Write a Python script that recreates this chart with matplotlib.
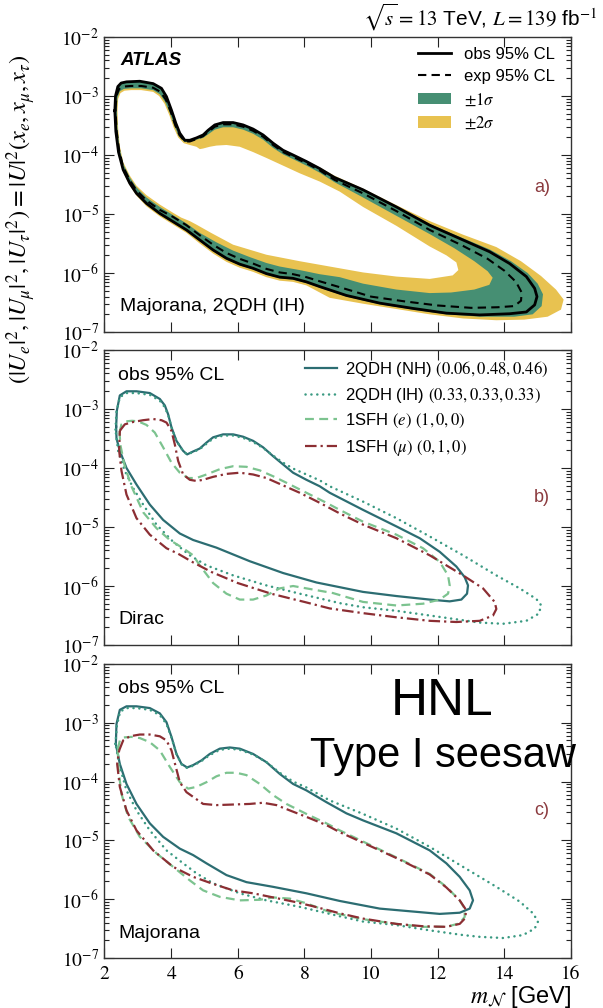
import numpy as np
import matplotlib
matplotlib.use("Agg")
import matplotlib.pyplot as plt
from matplotlib.path import Path
from matplotlib.patches import PathPatch, Patch
from matplotlib.lines import Line2D
from matplotlib.ticker import FixedLocator, LogLocator, NullFormatter, FuncFormatter

plt.rcParams['font.family'] = ['Liberation Sans', 'DejaVu Sans']
plt.rcParams['mathtext.fontset'] = 'stix'

# ---------------------------------------------------------------------------
# Exclusion contours: (m_N [GeV], log10 |U|^2), each a closed loop
# ---------------------------------------------------------------------------
# (a) Majorana, 2QDH (IH): observed, expected and +-1/2 sigma band edges
OBS_A = [(2.31,-3.25),(2.33,-3.00),(2.40,-2.84),(2.50,-2.78),(2.66,-2.76),(3.06,-2.75),(3.46,-2.79),
         (3.71,-2.87),(3.86,-3.01),(4.01,-3.24),(4.14,-3.46),(4.26,-3.63),(4.41,-3.75),(4.56,-3.75),
         (4.76,-3.71),(4.96,-3.66),(5.11,-3.58),(5.31,-3.49),(5.56,-3.45),(5.86,-3.45),(6.16,-3.49),
         (6.46,-3.56),(6.76,-3.66),(7.06,-3.80),(7.36,-3.92),(7.66,-4.00),(8.06,-4.11),(8.46,-4.23),
         (8.90,-4.38),(9.76,-4.59),(10.76,-4.88),(11.76,-5.19),(12.76,-5.44),(13.56,-5.64),(14.16,-5.84),
         (14.66,-6.06),(14.91,-6.26),(14.98,-6.40),(14.91,-6.54),(14.66,-6.66),(14.16,-6.69),(13.26,-6.71),
         (12.26,-6.68),(11.26,-6.60),(10.26,-6.51),(9.26,-6.38),(8.46,-6.23),(8.06,-6.15),(7.66,-6.09),
         (7.26,-6.07),(6.86,-6.01),(6.46,-5.92),(6.06,-5.85),(5.66,-5.75),(5.26,-5.61),(4.86,-5.44),
         (4.46,-5.27),(4.06,-5.13),(3.66,-4.99),(3.26,-4.82),(2.96,-4.65),(2.76,-4.48),(2.56,-4.25),
         (2.42,-3.95),(2.34,-3.60)]
EXP_A = [(2.33,-3.22),(2.36,-2.99),(2.44,-2.88),(2.56,-2.84),(2.80,-2.83),(3.10,-2.83),(3.46,-2.86),
         (3.68,-2.93),(3.84,-3.06),(3.99,-3.27),(4.12,-3.49),(4.25,-3.66),(4.41,-3.77),(4.56,-3.77),
         (4.76,-3.73),(4.96,-3.68),(5.11,-3.61),(5.31,-3.52),(5.56,-3.48),(5.86,-3.48),(6.16,-3.52),
         (6.46,-3.59),(6.76,-3.69),(7.06,-3.83),(7.36,-3.95),(7.66,-4.03),(8.06,-4.14),(8.46,-4.26),
         (8.90,-4.42),(9.76,-4.65),(10.76,-4.95),(11.76,-5.27),(12.76,-5.54),(13.50,-5.76),(14.00,-5.96),
         (14.35,-6.15),(14.52,-6.33),(14.50,-6.47),(14.30,-6.56),(13.80,-6.58),(13.00,-6.59),(12.00,-6.55),
         (11.00,-6.48),(10.00,-6.40),(9.06,-6.24),(8.46,-6.14),(8.06,-6.07),(7.66,-6.02),(7.26,-5.99),
         (6.86,-5.93),(6.46,-5.84),(6.06,-5.76),(5.66,-5.66),(5.26,-5.52),(4.86,-5.36),(4.46,-5.19),
         (4.06,-5.05),(3.66,-4.93),(3.26,-4.77),(2.96,-4.60),(2.76,-4.43),(2.56,-4.20),(2.44,-3.92),
         (2.36,-3.58)]
OUT1_A = [(2.31,-3.25),(2.33,-3.00),(2.40,-2.84),(2.50,-2.78),(2.66,-2.76),(3.06,-2.75),(3.46,-2.79),
          (3.71,-2.87),(3.86,-3.01),(4.01,-3.24),(4.14,-3.46),(4.26,-3.63),(4.41,-3.75),(4.56,-3.75),
          (4.76,-3.71),(4.96,-3.66),(5.11,-3.58),(5.31,-3.49),(5.56,-3.45),(5.86,-3.45),(6.16,-3.49),
          (6.46,-3.56),(6.76,-3.66),(7.06,-3.80),(7.36,-3.92),(7.66,-4.00),(8.06,-4.11),(8.46,-4.23),
          (8.90,-4.37),(9.76,-4.58),(10.76,-4.87),(11.76,-5.17),(12.76,-5.41),(13.56,-5.60),(14.20,-5.80),
          (14.70,-6.00),(15.00,-6.18),(15.16,-6.36),(15.12,-6.56),(14.85,-6.70),(14.30,-6.74),(13.26,-6.74),
          (12.26,-6.70),(11.26,-6.62),(10.26,-6.53),(9.26,-6.40),(8.46,-6.25),(8.06,-6.17),(7.66,-6.11),
          (7.26,-6.09),(6.86,-6.03),(6.46,-5.94),(6.06,-5.87),(5.66,-5.77),(5.26,-5.63),(4.86,-5.46),
          (4.46,-5.29),(4.06,-5.15),(3.66,-5.01),(3.26,-4.84),(2.96,-4.67),(2.76,-4.50),(2.56,-4.27),
          (2.42,-3.97),(2.33,-3.62)]
OUT2_A = [(2.30,-3.25),(2.32,-3.00),(2.39,-2.83),(2.50,-2.77),(2.66,-2.755),(3.06,-2.745),(3.46,-2.785),
          (3.71,-2.865),(3.86,-3.00),(4.01,-3.23),(4.14,-3.45),(4.26,-3.62),(4.41,-3.745),(4.56,-3.745),
          (4.76,-3.705),(4.96,-3.655),(5.11,-3.575),(5.31,-3.485),(5.56,-3.445),(5.86,-3.445),(6.16,-3.485),
          (6.46,-3.555),(6.76,-3.655),(7.06,-3.795),(7.36,-3.915),(7.66,-3.995),(8.06,-4.10),(8.46,-4.21),
          (8.90,-4.35),(9.76,-4.57),(10.76,-4.85),(11.76,-5.12),(12.76,-5.35),(13.76,-5.56),(14.50,-5.80),
          (15.10,-6.05),(15.55,-6.28),(15.78,-6.45),(15.70,-6.62),(15.30,-6.74),(14.60,-6.79),(13.76,-6.80),
          (12.76,-6.77),(11.76,-6.70),(10.76,-6.61),(9.76,-6.52),(8.76,-6.42),(8.06,-6.21),(7.66,-6.15),
          (7.26,-6.13),(6.86,-6.07),(6.46,-5.98),(6.06,-5.91),(5.66,-5.81),(5.26,-5.67),(4.86,-5.50),
          (4.46,-5.32),(4.06,-5.18),(3.66,-5.04),(3.26,-4.87),(2.96,-4.69),(2.76,-4.52),(2.56,-4.29),
          (2.41,-3.98),(2.32,-3.62)]
IN1_A = [(2.37,-3.25),(2.39,-3.03),(2.46,-2.92),(2.58,-2.88),(2.80,-2.87),(3.10,-2.87),(3.46,-2.90),
         (3.66,-2.97),(3.82,-3.10),(3.97,-3.30),(4.10,-3.51),(4.23,-3.68),(4.40,-3.78),(4.56,-3.78),
         (4.76,-3.74),(4.96,-3.71),(5.11,-3.65),(5.31,-3.57),(5.56,-3.53),(5.86,-3.53),(6.16,-3.57),
         (6.46,-3.64),(6.76,-3.74),(7.06,-3.88),(7.36,-3.99),(7.66,-4.07),(8.06,-4.18),(8.46,-4.30),
         (8.90,-4.46),(9.76,-4.72),(10.76,-5.03),(11.76,-5.34),(12.50,-5.58),(13.10,-5.80),(13.50,-5.97),
         (13.65,-6.08),(13.55,-6.20),(13.10,-6.28),(12.40,-6.33),(11.76,-6.34),(10.76,-6.28),(9.76,-6.18),
         (9.06,-6.07),(8.46,-6.02),(7.86,-5.95),(7.26,-5.89),(6.86,-5.83),(6.36,-5.73),(5.86,-5.62),
         (5.36,-5.48),(4.86,-5.32),(4.46,-5.16),(4.06,-5.02),(3.66,-4.88),(3.26,-4.72),(2.96,-4.55),
         (2.76,-4.38),(2.56,-4.15),(2.45,-3.88),(2.39,-3.55)]
IN2_A = [(2.39,-3.25),(2.41,-3.05),(2.48,-2.95),(2.60,-2.91),(2.80,-2.90),(3.10,-2.90),(3.46,-2.93),
         (3.64,-3.00),(3.80,-3.13),(3.95,-3.33),(4.08,-3.54),(4.21,-3.70),(4.38,-3.80),(4.56,-3.83),
         (4.76,-3.86),(4.86,-3.90),(4.96,-3.89),(5.16,-3.86),(5.36,-3.84),(5.66,-3.83),(6.06,-3.86),
         (6.46,-3.95),(6.86,-4.05),(7.36,-4.18),(7.86,-4.31),(8.46,-4.45),(9.06,-4.62),(9.76,-4.88),
         (10.76,-5.20),(11.76,-5.55),(12.26,-5.70),(12.56,-5.82),(12.62,-5.95),(12.45,-6.04),(11.76,-6.10),
         (10.76,-6.06),(9.76,-5.99),(9.06,-5.92),(7.86,-5.80),(6.86,-5.69),(5.86,-5.52),(5.20,-5.32),
         (4.76,-5.18),(4.56,-5.12),(4.30,-5.06),(4.06,-4.98),(3.66,-4.84),(3.26,-4.68),(2.96,-4.52),
         (2.76,-4.35),(2.56,-4.12),(2.46,-3.85),(2.41,-3.55)]

# (b) Dirac, observed limits for four flavour-mixing hypotheses
NH_B = [(2.35,-3.30),(2.37,-3.03),(2.46,-2.77),(2.66,-2.70),(2.96,-2.70),(3.36,-2.73),(3.66,-2.83),
        (3.81,-2.94),(3.91,-3.09),(4.01,-3.31),(4.16,-3.54),(4.36,-3.71),(4.48,-3.77),(4.66,-3.72),
        (4.86,-3.67),(5.06,-3.57),(5.26,-3.48),(5.56,-3.43),(5.86,-3.43),(6.16,-3.47),(6.46,-3.54),
        (6.76,-3.65),(7.06,-3.80),(7.36,-3.94),(7.66,-4.08),(8.06,-4.20),(8.46,-4.31),(8.76,-4.42),
        (9.76,-4.71),(10.76,-4.99),(11.46,-5.19),(12.06,-5.42),(12.56,-5.67),(12.81,-5.85),(12.91,-5.99),
        (12.88,-6.13),(12.71,-6.23),(12.36,-6.26),(11.76,-6.23),(10.76,-6.17),(9.76,-6.10),(9.06,-6.02),
        (8.36,-5.94),(7.36,-5.78),(6.36,-5.58),(5.36,-5.35),(4.66,-5.22),(4.26,-5.11),(3.76,-4.88),
        (3.36,-4.62),(2.96,-4.28),(2.66,-4.00),(2.46,-3.71),(2.36,-3.50)]
IH_B = [(2.33,-3.35),(2.36,-3.05),(2.46,-2.80),(2.66,-2.73),(2.96,-2.73),(3.36,-2.76),(3.66,-2.86),
        (3.81,-2.97),(3.92,-3.12),(4.02,-3.33),(4.17,-3.55),(4.37,-3.72),(4.48,-3.77),(4.66,-3.73),
        (4.86,-3.68),(5.06,-3.59),(5.26,-3.50),(5.56,-3.45),(5.86,-3.45),(6.16,-3.49),(6.46,-3.56),
        (6.76,-3.66),(7.06,-3.79),(7.36,-3.91),(7.66,-4.01),(8.06,-4.11),(8.46,-4.21),(8.76,-4.31),
        (9.76,-4.57),(10.76,-4.85),(11.76,-5.16),(12.76,-5.48),(13.76,-5.82),(14.46,-6.04),(14.96,-6.22),
        (15.11,-6.33),(15.03,-6.47),(14.66,-6.59),(13.96,-6.64),(13.26,-6.62),(12.76,-6.58),(11.76,-6.50),
        (10.76,-6.42),(9.76,-6.36),(9.06,-6.29),(7.86,-6.13),(6.86,-5.99),(5.86,-5.82),(5.06,-5.65),
        (4.56,-5.48),(4.06,-5.25),(3.56,-4.96),(3.16,-4.62),(2.86,-4.34),(2.61,-4.05),(2.41,-3.71)]
E_B = [(2.45,-3.40),(2.51,-3.26),(2.64,-3.21),(2.83,-3.20),(3.01,-3.21),(3.26,-3.27),(3.51,-3.40),
       (3.76,-3.65),(4.01,-3.91),(4.26,-4.08),(4.51,-4.17),(4.76,-4.17),(5.06,-4.11),(5.46,-4.02),
       (5.86,-3.97),(6.26,-3.98),(6.66,-4.04),(7.06,-4.14),(7.46,-4.25),(8.06,-4.42),(8.66,-4.59),
       (9.06,-4.71),(9.76,-4.91),(10.76,-5.13),(11.56,-5.36),(12.06,-5.59),(12.31,-5.82),(12.36,-5.99),
       (12.31,-6.13),(12.06,-6.23),(11.56,-6.30),(10.76,-6.33),(9.76,-6.27),(8.86,-6.12),(8.26,-6.06),
       (7.66,-6.00),(7.26,-6.04),(6.86,-6.16),(6.46,-6.23),(6.06,-6.23),(5.66,-6.13),(5.26,-5.95),
       (4.86,-5.65),(4.66,-5.48),(4.36,-5.36),(3.96,-5.22),(3.56,-5.02),(3.16,-4.75),(2.80,-4.30),
       (2.60,-3.95),(2.48,-3.62)]
MU_B = [(2.46,-3.37),(2.61,-3.26),(2.86,-3.22),(3.16,-3.19),(3.46,-3.17),(3.71,-3.19),(3.86,-3.23),
        (4.01,-3.37),(4.11,-3.60),(4.21,-3.88),(4.36,-4.11),(4.56,-4.20),(4.76,-4.22),(4.96,-4.20),
        (5.26,-4.15),(5.66,-4.10),(6.06,-4.08),(6.46,-4.11),(6.86,-4.17),(7.26,-4.27),(7.86,-4.42),
        (8.46,-4.59),(9.06,-4.77),(9.76,-4.96),(10.76,-5.19),(11.76,-5.48),(12.76,-5.82),(13.36,-6.04),
        (13.71,-6.27),(13.76,-6.39),(13.66,-6.50),(13.26,-6.59),(12.56,-6.61),(11.76,-6.59),(10.76,-6.53),
        (9.76,-6.46),(8.76,-6.38),(8.00,-6.27),(7.00,-6.13),(6.00,-5.95),(5.20,-5.76),(4.66,-5.60),
        (4.20,-5.45),(3.86,-5.36),(3.36,-5.13),(2.96,-4.85),(2.66,-4.45),(2.51,-4.05),(2.44,-3.71)]

# (c) Majorana, observed limits for the same hypotheses
NH_C = [(2.34,-3.36),(2.36,-3.02),(2.46,-2.78),(2.66,-2.72),(2.96,-2.72),(3.36,-2.75),(3.66,-2.84),
        (3.86,-2.99),(4.01,-3.24),(4.16,-3.53),(4.31,-3.70),(4.48,-3.76),(4.66,-3.72),(4.91,-3.64),
        (5.16,-3.53),(5.46,-3.44),(5.76,-3.42),(6.06,-3.44),(6.46,-3.53),(6.86,-3.67),(7.26,-3.87),
        (7.66,-4.04),(8.06,-4.15),(8.66,-4.35),(9.26,-4.54),(9.76,-4.66),(10.76,-4.88),(11.76,-5.17),
        (12.26,-5.39),(12.66,-5.62),(12.96,-5.85),(13.06,-6.02),(12.96,-6.16),(12.66,-6.23),(12.06,-6.25),
        (11.26,-6.21),(10.26,-6.16),(9.06,-6.03),(8.06,-5.90),(7.06,-5.79),(6.26,-5.71),(5.66,-5.59),
        (5.06,-5.39),(4.66,-5.25),(4.26,-5.14),(3.76,-4.94),(3.36,-4.71),(2.96,-4.38),(2.66,-4.04),
        (2.46,-3.70)]
IH_C = [(2.33,-3.36),(2.37,-3.05),(2.47,-2.81),(2.66,-2.75),(2.96,-2.75),(3.36,-2.78),(3.66,-2.87),
        (3.86,-3.02),(4.02,-3.27),(4.17,-3.55),(4.32,-3.71),(4.48,-3.77),(4.66,-3.73),(4.91,-3.65),
        (5.16,-3.55),(5.46,-3.46),(5.76,-3.44),(6.06,-3.46),(6.46,-3.54),(6.86,-3.67),(7.26,-3.85),
        (7.66,-4.00),(8.06,-4.10),(8.76,-4.32),(9.76,-4.55),(10.76,-4.80),(11.76,-5.11),(12.76,-5.45),
        (13.76,-5.79),(14.46,-6.04),(14.86,-6.24),(15.01,-6.38),(14.91,-6.50),(14.56,-6.61),(13.96,-6.66),
        (13.26,-6.64),(12.76,-6.61),(11.76,-6.53),(10.76,-6.44),(9.76,-6.38),(9.06,-6.29),(7.86,-6.13),
        (6.86,-6.02),(6.06,-5.90),(5.26,-5.73),(4.76,-5.56),(4.36,-5.39),(3.86,-5.17),(3.36,-4.83),
        (2.96,-4.49),(2.66,-4.15),(2.46,-3.75)]
E_C = [(2.40,-3.45),(2.46,-3.30),(2.56,-3.25),(2.81,-3.24),(3.06,-3.26),(3.36,-3.33),(3.66,-3.47),
       (3.96,-3.75),(4.26,-4.01),(4.51,-4.12),(4.76,-4.09),(5.06,-4.01),(5.36,-3.91),(5.66,-3.85),
       (5.96,-3.85),(6.26,-3.89),(6.66,-4.04),(7.06,-4.23),(7.46,-4.38),(8.06,-4.55),(8.66,-4.71),
       (9.06,-4.83),(9.76,-5.02),(10.76,-5.29),(11.76,-5.57),(12.26,-5.79),(12.66,-6.02),(12.81,-6.16),
       (12.81,-6.30),(12.66,-6.41),(12.26,-6.47),(11.56,-6.47),(10.76,-6.42),(9.76,-6.34),(8.76,-6.22),
       (8.06,-6.07),(7.56,-5.99),(7.06,-5.97),(6.66,-6.01),(6.06,-6.02),(5.46,-5.96),(4.96,-5.85),
       (4.56,-5.68),(4.06,-5.45),(3.56,-5.22),(3.06,-4.94),(2.71,-4.60),(2.51,-4.21),(2.42,-3.80)]
MU_C = [(2.44,-3.47),(2.56,-3.30),(2.76,-3.23),(3.06,-3.20),(3.36,-3.20),(3.66,-3.23),(3.86,-3.30),
        (4.01,-3.47),(4.14,-3.75),(4.26,-4.01),(4.46,-4.18),(4.66,-4.26),(4.96,-4.38),(5.36,-4.40),
        (5.86,-4.39),(6.36,-4.38),(6.76,-4.36),(7.16,-4.40),(7.56,-4.49),(8.06,-4.60),(8.66,-4.74),
        (9.06,-4.86),(9.76,-5.04),(10.76,-5.30),(11.76,-5.58),(12.26,-5.80),(12.66,-6.02),(12.85,-6.18),
        (12.83,-6.32),(12.66,-6.42),(12.26,-6.47),(11.56,-6.46),(10.76,-6.42),(9.76,-6.33),(9.06,-6.24),
        (8.26,-6.12),(7.66,-6.04),(7.06,-5.97),(6.46,-5.90),(5.86,-5.85),(5.26,-5.74),(4.66,-5.62),
        (4.06,-5.45),(3.46,-5.17),(2.96,-4.83),(2.66,-4.49),(2.46,-4.09),(2.38,-3.70)]

HYP_LABELS = [r"2QDH (NH) $(0.06, 0.48, 0.46)$",
              r"2QDH (IH) $(0.33, 0.33, 0.33)$",
              r"1SFH $(e)$ $(1, 0, 0)$",
              r"1SFH $(\mu)$ $(0, 1, 0)$"]
X_TICKS = [2, 4, 6, 8, 10, 12, 14, 16]
Y_DECADES = [-7, -6, -5, -4, -3, -2]

# ---------------------------------------------------------------------------
C_GREEN_BAND = "#468f73"
C_YELLOW_BAND = "#e8c250"
C_NH = "#2c6d72"
C_IH = "#3a9a82"
C_E = "#7cc38f"
C_MU = "#8c2e33"
C_TAG = "#8b3a3e"

STYLES = [dict(color=C_NH, ls='-', lw=1.6),
          dict(color=C_IH, ls=(0, (0.05, 2.3)), lw=1.8, dash_capstyle='round'),
          dict(color=C_E, ls=(0, (4.0, 2.4)), lw=1.6),
          dict(color=C_MU, ls=(0, (5.2, 1.8, 1.0, 1.8)), lw=1.6)]


def loop(pts):
    a = np.asarray(pts, float)
    a = np.vstack([a, a[:1]])
    return a[:, 0], 10.0 ** a[:, 1]


def orientation(pts):
    a = np.asarray(pts, float)
    x, y = a[:, 0], a[:, 1]
    return np.sign(np.sum(x * np.roll(y, -1) - np.roll(x, -1) * y))


def ring_patch(ax, outer, inner, color, z):
    oa = np.asarray(outer, float)
    ia = np.asarray(inner, float)
    if orientation(oa) == orientation(ia):
        ia = ia[::-1]
    verts, codes = [], []
    for a in (oa, ia):
        v = np.column_stack([a[:, 0], 10.0 ** a[:, 1]])
        verts.append(np.vstack([v, v[:1]]))
        codes += [Path.MOVETO] + [Path.LINETO] * (len(a) - 1) + [Path.CLOSEPOLY]
    ax.add_patch(PathPatch(Path(np.vstack(verts), codes), facecolor=color,
                           edgecolor='none', zorder=z))


def style_axes(ax, show_x):
    ax.set_yscale('log')
    ax.set_xlim(2, 16)
    ax.set_ylim(1e-7, 1e-2)
    ax.xaxis.set_major_locator(FixedLocator(X_TICKS))
    ax.yaxis.set_major_locator(FixedLocator([10.0 ** d for d in Y_DECADES]))
    ax.yaxis.set_minor_locator(LogLocator(base=10, subs=np.arange(2, 10)))
    ax.yaxis.set_minor_formatter(NullFormatter())
    ax.yaxis.set_major_formatter(FuncFormatter(
        lambda v, _: r"$10^{%d}$" % int(round(np.log10(v)))))
    ax.xaxis.set_major_formatter(FuncFormatter(lambda v, _: "%d" % v))
    ax.tick_params(which='both', direction='in', top=True, right=True,
                   width=0.8, colors='#222222', labelcolor='black')
    ax.tick_params(which='major', length=7, labelsize=14, pad=4,
                   labelfontfamily='STIXGeneral')
    ax.tick_params(which='minor', length=3.5)
    ax.tick_params(axis='x', labelbottom=show_x, labelsize=14, pad=6)
    for s in ax.spines.values():
        s.set_linewidth(1.0)
        s.set_color('#333333')


fig = plt.figure(figsize=(6.03, 10.08), dpi=100)
L, W = 0.1733, 0.7736
ax_a = fig.add_axes([L, 0.6706, W, 0.2927])
ax_b = fig.add_axes([L, 0.3601, W, 0.2927])
ax_c = fig.add_axes([L, 0.0496, W, 0.2917])

# ---- (a) observed / expected with uncertainty bands ----
ring_patch(ax_a, OUT2_A, IN2_A, C_YELLOW_BAND, 1)
ring_patch(ax_a, OUT1_A, IN1_A, C_GREEN_BAND, 2)
ax_a.plot(*loop(EXP_A), color='black', ls=(0, (4.0, 2.5)), lw=1.5, zorder=3)
ax_a.plot(*loop(OBS_A), color='black', ls='-', lw=2.0, zorder=4)
style_axes(ax_a, False)

leg_a = [Line2D([], [], color='black', lw=2.0),
         Line2D([], [], color='black', lw=1.5, ls=(0, (4.0, 2.5))),
         Patch(facecolor=C_GREEN_BAND, edgecolor='none'),
         Patch(facecolor=C_YELLOW_BAND, edgecolor='none')]
ax_a.legend(leg_a, ["obs 95% CL", "exp 95% CL", r"$\pm1\sigma$", r"$\pm2\sigma$"],
            loc='upper left', bbox_to_anchor=(0.672, 0.965), frameon=False,
            fontsize=12, handlelength=2.0, handletextpad=0.75, labelspacing=0.42,
            borderpad=0, borderaxespad=0)
ax_a.text(0.033, 0.922, "ATLAS", transform=ax_a.transAxes, fontsize=13.5,
          fontweight='bold', fontstyle='italic', va='center', ha='left')
ax_a.text(0.033, 0.085, "Majorana, 2QDH (IH)", transform=ax_a.transAxes,
          fontsize=14, va='center', ha='left')
ax_a.text(0.938, 0.49, "a)", transform=ax_a.transAxes, fontsize=13,
          color=C_TAG, va='center', ha='center')

# ---- (b) and (c): observed limits for each hypothesis ----
for ax, curves, tag, kind in ((ax_b, (NH_B, IH_B, E_B, MU_B), "b)", "Dirac"),
                              (ax_c, (NH_C, IH_C, E_C, MU_C), "c)", "Majorana")):
    for i in [1, 2, 3, 0]:
        ax.plot(*loop(curves[i]), zorder=3 + i, **STYLES[i])
    style_axes(ax, ax is ax_c)
    ax.text(0.029, 0.915, "obs 95% CL", transform=ax.transAxes, fontsize=14,
            va='center', ha='left')
    ax.text(0.029, 0.085, kind, transform=ax.transAxes, fontsize=14,
            va='center', ha='left')
    ax.text(0.938, 0.50, tag, transform=ax.transAxes, fontsize=13,
            color=C_TAG, va='center', ha='center')

handles_b = [Line2D([], [], **STYLES[i]) for i in range(4)]
ax_b.legend(handles_b, HYP_LABELS, loc='upper left', bbox_to_anchor=(0.43, 0.967),
            frameon=False, fontsize=12, handlelength=1.9, handletextpad=0.5,
            labelspacing=0.45, borderpad=0, borderaxespad=0)

ax_c.text(0.724, 0.827, "HNL", transform=ax_c.transAxes, fontsize=37,
          ha='center', va='baseline')
ax_c.text(0.725, 0.650, "Type I seesaw", transform=ax_c.transAxes, fontsize=30,
          ha='center', va='baseline')

# ---- figure-level labels ----
fig.text(0.99, 0.983, r"$\sqrt{s} = 13$ TeV, $L = 139$ fb$^{-1}$", ha='right',
         va='center', fontsize=15)
fig.text(0.947, 0.011, r"$m_{\mathcal{N}}$ [GeV]", ha='right', va='center',
         fontsize=17)
fig.text(0.036, 0.783,
         r"$(|U_e|^2, |U_\mu|^2, |U_\tau|^2) = |U|^2(x_e, x_\mu, x_\tau)$",
         rotation=90, ha='center', va='center', fontsize=17.5)

fig.savefig("out.png", dpi=100)
